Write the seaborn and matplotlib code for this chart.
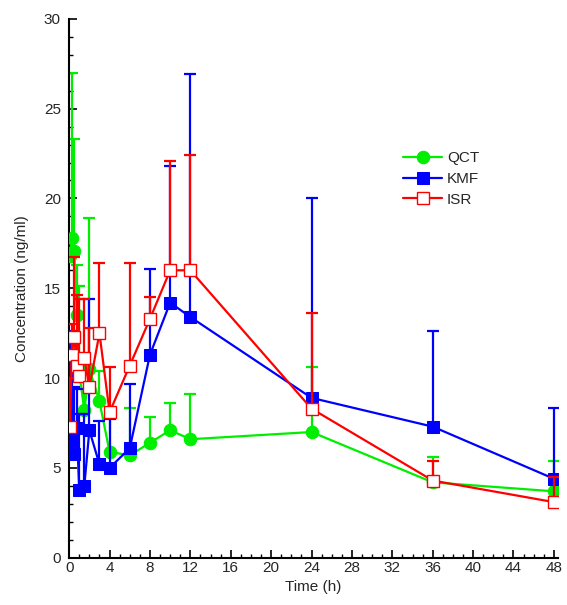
import numpy as np
import pandas as pd
import seaborn as sns
import matplotlib.pyplot as plt
from matplotlib.ticker import MultipleLocator

# sampling times (h)
times = [0.083, 0.25, 0.5, 0.75, 1, 1.5, 2, 3, 4, 6, 8, 10, 12, 24, 36, 48]

# mean concentrations (ng/ml)
qct_mean = [16.8, 17.8, 17.1, 13.5, 10.3, 8.2, 10.5, 8.7, 5.9, 5.7, 6.4, 7.1, 6.6, 7.0, 4.2, 3.7]
kmf_mean = [6.6, 6.4, 5.8, 7.2, 3.8, 4.0, 7.1, 5.2, 5.0, 6.1, 11.3, 14.2, 13.4, 8.9, 7.3, 4.4]
isr_mean = [7.3, 11.3, 12.3, 10.7, 10.1, 11.1, 9.5, 12.5, 8.1, 10.7, 13.3, 16.0, 16.0, 8.3, 4.3, 3.1]

# top of the error bar (mean + SD)
qct_upper = [17.5, 27.0, 23.3, 16.3, 15.1, 10.8, 18.9, 10.4, 8.0, 8.35, 7.85, 8.6, 9.1, 10.6, 5.6, 5.4]
kmf_upper = [12.6, 12.0, 9.5, 9.4, 8.0, 8.0, 14.4, 7.6, 7.7, 9.7, 16.1, 21.8, 26.9, 20.0, 12.6, 8.35]
isr_upper = [10.0, 13.0, 16.75, 14.6, 14.4, 14.4, 12.8, 16.4, 10.6, 16.4, 14.5, 22.1, 22.4, 13.6, 5.4, 4.5]

groups = ["QCT", "KMF", "ISR"]
colors = {"QCT": "#00ee00", "KMF": "#0000ff", "ISR": "#ff0000"}

sns.set_theme(style="ticks")
plt.rcParams['font.family'] = ['Liberation Sans', 'DejaVu Sans']

fig = plt.figure(figsize=(5.67, 6.05), dpi=100)
ax = fig.add_axes([0.122, 0.078, 0.862, 0.891])

series = {
    "QCT": (qct_mean, qct_upper),
    "KMF": (kmf_mean, kmf_upper),
    "ISR": (isr_mean, isr_upper),
}
style = {
    "QCT": dict(marker="o", markersize=9, markerfacecolor=colors["QCT"], markeredgecolor=colors["QCT"]),
    "KMF": dict(marker="s", markersize=8.5, markerfacecolor=colors["KMF"], markeredgecolor=colors["KMF"]),
    "ISR": dict(marker="s", markersize=8.5, markerfacecolor="white", markeredgecolor=colors["ISR"], markeredgewidth=1.0),
}

for z, g in enumerate(groups):
    mean, upper = series[g]
    df = pd.DataFrame({"time": times, "conc": mean})
    err = np.array(upper) - np.array(mean)
    # upper-only error bars
    ax.errorbar(times, mean, yerr=[np.zeros(len(err)), err], fmt="none",
                ecolor=colors[g], elinewidth=1.6, capsize=4, capthick=1.6, zorder=2 + z * 2)
    sns.lineplot(data=df, x="time", y="conc", ax=ax, color=colors[g], linewidth=1.6,
                 label=g, zorder=3 + z * 2, **style[g])

ax.set_xlim(0, 48.4)
ax.set_ylim(0, 30)
ax.xaxis.set_major_locator(MultipleLocator(4))
ax.xaxis.set_minor_locator(MultipleLocator(1))
ax.yaxis.set_major_locator(MultipleLocator(5))
ax.yaxis.set_minor_locator(MultipleLocator(1))
ax.tick_params(which="major", direction="in", length=6, width=1.2, labelsize=11, color="black")
ax.tick_params(which="minor", direction="in", length=3, width=1.0, color="black")
ax.tick_params(axis="x", which="major", pad=2)
ax.tick_params(axis="y", which="major", pad=6)
ax.tick_params(axis="x", which="both", bottom=True)
ax.tick_params(axis="y", which="both", left=True)

for s in ["left", "bottom"]:
    ax.spines[s].set_linewidth(1.5)
    ax.spines[s].set_color("black")
sns.despine(ax=ax)

ax.set_xlabel("Time (h)", fontsize=11, labelpad=4)
ax.set_ylabel("Concentration (ng/ml)", fontsize=11, labelpad=11)

ax.legend(loc="upper left", bbox_to_anchor=(0.67, 0.766), frameon=False, fontsize=11,
          handlelength=2.6, handletextpad=0.3, labelspacing=0.45, borderaxespad=0)

fig.savefig("out.png", dpi=100)
